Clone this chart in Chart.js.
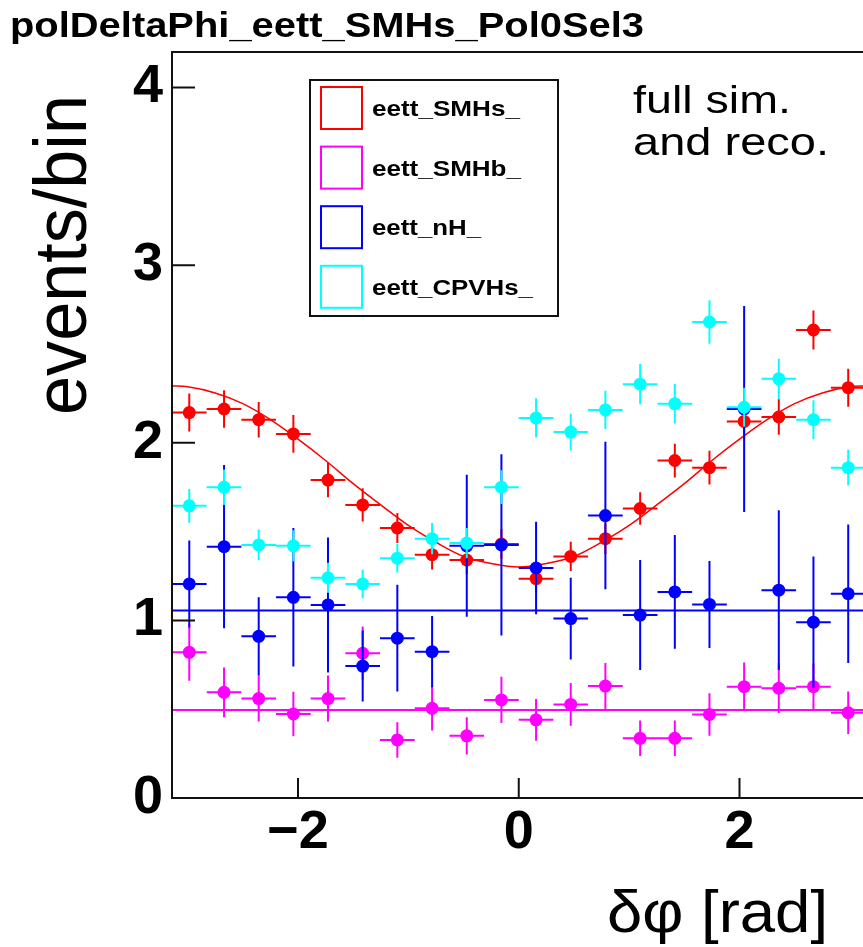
<!DOCTYPE html>
<html>
<head>
<meta charset="utf-8">
<script src="https://cdn.jsdelivr.net/npm/chart.js@4"></script>
<style>
  html, body { margin: 0; padding: 0; background: #fff; overflow: hidden; }
  #wrap { width: 872px; height: 947px; }
</style>
</head>
<body>
<div id="wrap"><canvas id="plot" width="872" height="947"></canvas></div>
<script>
// 20 bins over [-pi, pi]
const binCenters = [-2.985, -2.670, -2.356, -2.042, -1.728, -1.414, -1.100, -0.785, -0.471, -0.157,
                     0.157,  0.471,  0.785,  1.100,  1.414,  1.728,  2.042,  2.356,  2.670,  2.985]
const binHalfWidth = 0.157

const seriesNames = ['eett_SMHs_', 'eett_SMHb_', 'eett_nH_', 'eett_CPVHs_']
const seriesColors = ['#ff0000', '#ff00ff', '#0000ff', '#00ffff']

const smhsVals = [2.17, 2.19, 2.13, 2.05, 1.79, 1.65, 1.52, 1.37, 1.34, 1.43,
                  1.235, 1.36, 1.46, 1.63, 1.90, 1.86, 2.12, 2.145, 2.635, 2.31]
const smhsErr  = [0.107, 0.105, 0.10, 0.106, 0.097, 0.094, 0.085, 0.084, 0.082, 0.085,
                  0.08, 0.082, 0.086, 0.092, 0.095, 0.095, 0.10, 0.10, 0.11, 0.107]

const smhbVals = [0.82, 0.595, 0.56, 0.473, 0.56, 0.815, 0.327, 0.505, 0.35, 0.552,
                  0.44, 0.527, 0.63, 0.336, 0.336, 0.47, 0.627, 0.618, 0.627, 0.48]
const smhbErr  = [0.16, 0.14, 0.13, 0.125, 0.13, 0.15, 0.10, 0.125, 0.105, 0.13,
                  0.118, 0.12, 0.13, 0.10, 0.10, 0.12, 0.136, 0.14, 0.13, 0.12]

const nhVals = [1.205, 1.415, 0.91, 1.13, 1.087, 0.743, 0.90, 0.824, 1.42, 1.425,
                1.295, 1.01, 1.59, 1.03, 1.16, 1.09, 2.19, 1.17, 0.99, 1.15]
const nhErr  = [0.245, 0.46, 0.22, 0.39, 0.38, 0.20, 0.30, 0.20, 0.40, 0.51,
                0.26, 0.23, 0.415, 0.31, 0.32, 0.245, 0.58, 0.45, 0.37, 0.39]

const cpvhsVals = [1.645, 1.75, 1.425, 1.42, 1.24, 1.205, 1.35, 1.46, 1.435, 1.75,
                   2.14, 2.06, 2.185, 2.33, 2.22, 2.68, 2.20, 2.36, 2.13, 1.86]
const cpvhsErr  = [0.095, 0.10, 0.087, 0.087, 0.085, 0.08, 0.08, 0.088, 0.085, 0.095,
                   0.11, 0.103, 0.108, 0.113, 0.111, 0.122, 0.11, 0.113, 0.11, 0.10]

// fitted curves
const smhsFitX = [-3.1416, -3.0, -2.75, -2.5, -2.25, -2.0, -1.75, -1.5, -1.25, -1.0, -0.75, -0.5, -0.25, 0,
                  0.25, 0.5, 0.75, 1.0, 1.25, 1.5, 1.75, 2.0, 2.25, 2.5, 2.75, 3.0, 3.1416]
const smhsFitY = [2.32, 2.315, 2.28, 2.22, 2.13, 2.02, 1.90, 1.77, 1.65, 1.535, 1.44, 1.36, 1.32, 1.30,
                  1.32, 1.36, 1.44, 1.535, 1.65, 1.77, 1.90, 2.02, 2.13, 2.22, 2.28, 2.315, 2.32]
const flatFitX = [-3.1416, 3.1416]
const smhbFitY = [0.495, 0.495]
const nhFitY = [1.055, 1.055]

const xTicks = [-2, 0, 2]
const yTicks = [0, 1, 2, 3, 4]

function points(xs, ys) {
  return xs.map((x, i) => ({x: x, y: ys[i]}))
}

function histDataset(idx, vals, errs, order) {
  return {
    type: 'scatter',
    label: seriesNames[idx],
    data: points(binCenters, vals),
    yErr: errs,
    backgroundColor: seriesColors[idx],
    borderColor: seriesColors[idx],
    borderWidth: 0,
    pointRadius: 6.5,
    order: order
  }
}

function fitDataset(idx, xs, ys, order, width) {
  return {
    type: 'line',
    data: points(xs, ys),
    borderColor: seriesColors[idx],
    borderWidth: width,
    pointRadius: 0,
    cubicInterpolationMode: 'monotone',
    fill: false,
    order: order
  }
}

// text drawn stretched to a given width
function fitText(ctx, text, x, y, font, width, rot) {
  ctx.save()
  ctx.font = font
  ctx.textAlign = 'left'
  ctx.textBaseline = 'alphabetic'
  ctx.fillStyle = '#000'
  let w = ctx.measureText(text).width
  ctx.translate(x, y)
  if (rot) ctx.rotate(rot)
  ctx.scale(width / w, 1)
  ctx.fillText(text, 0, 0)
  ctx.restore()
}

const errorBars = {
  id: 'errorBars',
  beforeDatasetDraw(chart, args) {
    let ds = chart.data.datasets[args.index]
    if (!ds.yErr) return
    let {ctx, chartArea: a, scales: {x, y}} = chart
    ctx.save()
    ctx.beginPath()
    ctx.rect(a.left, a.top, a.right - a.left, a.bottom - a.top)
    ctx.clip()
    ctx.strokeStyle = ds.borderColor
    ctx.lineWidth = 2
    ctx.beginPath()
    ds.data.forEach((p, i) => {
      let px = x.getPixelForValue(p.x)
      let py = y.getPixelForValue(p.y)
      ctx.moveTo(x.getPixelForValue(p.x - binHalfWidth), py)
      ctx.lineTo(x.getPixelForValue(p.x + binHalfWidth), py)
      ctx.moveTo(px, y.getPixelForValue(p.y - ds.yErr[i]))
      ctx.lineTo(px, y.getPixelForValue(p.y + ds.yErr[i]))
    })
    ctx.stroke()
    ctx.restore()
  }
}

const frameAndText = {
  id: 'frameAndText',
  afterDraw(chart) {
    let {ctx, chartArea: a, scales: {x, y}} = chart
    ctx.save()
    ctx.strokeStyle = '#111'
    ctx.lineWidth = 2
    ctx.strokeRect(a.left, a.top, a.right - a.left, a.bottom - a.top)
    // inward tick marks
    ctx.beginPath()
    for (let t of yTicks) {
      let py = y.getPixelForValue(t)
      ctx.moveTo(a.left, py)
      ctx.lineTo(a.left + 23, py)
    }
    for (let t of xTicks) {
      let px = x.getPixelForValue(t)
      ctx.moveTo(px, a.bottom)
      ctx.lineTo(px, a.bottom - 20)
    }
    ctx.stroke()

    // legend
    ctx.fillStyle = '#fff'
    ctx.fillRect(310, 80, 248, 236)
    ctx.strokeRect(310, 80, 248, 236)
    let legendWidths = [148, 149, 109, 161]
    seriesNames.forEach((name, i) => {
      let top = 87 + i * 59.6
      ctx.strokeStyle = seriesColors[i]
      ctx.lineWidth = 2
      ctx.strokeRect(321, top, 41, 42)
      fitText(ctx, name, 372, top + 29, 'bold 22px "Liberation Sans", Arial, sans-serif', legendWidths[i])
    })
    ctx.restore()

    fitText(ctx, 'polDeltaPhi_eett_SMHs_Pol0Sel3', 10, 37, 'bold 35px "Liberation Sans", Arial, sans-serif', 634)
    fitText(ctx, 'full sim.', 633, 113, '39px "Liberation Sans", Arial, sans-serif', 158)
    fitText(ctx, 'and reco.', 633, 155, '39px "Liberation Sans", Arial, sans-serif', 196)
    fitText(ctx, '\u03b4\u03c6 [rad]', 607, 932, '60px "Liberation Sans", Arial, sans-serif', 221)
    fitText(ctx, 'events/bin', 86, 415, '74px "Liberation Sans", Arial, sans-serif', 320, -Math.PI / 2)
  }
}

const tickFont = {family: '"Liberation Sans", Arial, sans-serif', size: 54, weight: 'bold', lineHeight: 1}

new Chart(document.getElementById('plot'), {
  type: 'scatter',
  data: {
    datasets: [
      histDataset(3, cpvhsVals, cpvhsErr, 1),
      fitDataset(2, flatFitX, nhFitY, 2, 2),
      histDataset(2, nhVals, nhErr, 3),
      fitDataset(1, flatFitX, smhbFitY, 4, 2),
      histDataset(1, smhbVals, smhbErr, 5),
      fitDataset(0, smhsFitX, smhsFitY, 6, 1.5),
      histDataset(0, smhsVals, smhsErr, 7)
    ]
  },
  options: {
    responsive: false,
    animation: false,
    layout: {padding: {top: 52, right: 6, left: 0, bottom: 0}},
    plugins: {legend: {display: false}, tooltip: {enabled: false}},
    scales: {
      x: {
        type: 'linear',
        min: -3.1416,
        max: 3.1416,
        grid: {display: false, drawTicks: false},
        border: {display: false},
        ticks: {
          stepSize: 2,
          includeBounds: false,
          padding: 8,
          color: '#000',
          font: tickFont,
          callback: v => (v < 0 ? '\u2212' + Math.abs(v) : '' + v)
        },
        afterFit: s => { s.height = 149 }
      },
      y: {
        min: 0,
        max: 4.2,
        grid: {display: false, drawTicks: false},
        border: {display: false},
        ticks: {stepSize: 1, includeBounds: false, padding: 9, color: '#000', font: tickFont},
        afterFit: s => { s.width = 172 }
      }
    }
  },
  plugins: [errorBars, frameAndText]
})
</script>
</body>
</html>
